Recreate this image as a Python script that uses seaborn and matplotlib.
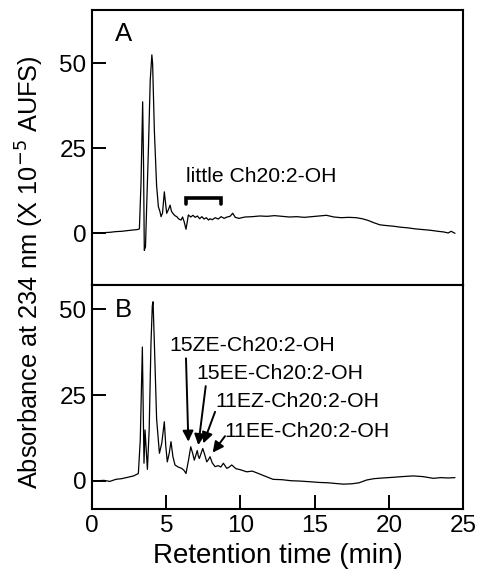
import numpy as np
import pandas as pd
import matplotlib
matplotlib.use("Agg")
import matplotlib.pyplot as plt
import seaborn as sns

# chromatogram A (control)
time_a = [0.0, 0.4, 0.8, 1.2, 1.6, 2.0, 2.4, 2.8, 3.05, 3.19, 3.3, 3.41, 3.47, 3.52,
          3.6, 3.68, 3.8, 3.92, 4.03, 4.08, 4.2, 4.35, 4.47, 4.57, 4.65, 4.75, 4.87,
          4.95, 5.03, 5.15, 5.26, 5.35, 5.44, 5.58, 5.71, 5.85, 6.0, 6.1, 6.2, 6.33,
          6.42, 6.49, 6.65, 6.8, 6.95, 7.1, 7.25, 7.4, 7.55, 7.7, 7.85, 7.95, 8.1,
          8.3, 8.5, 8.7, 8.9, 9.1, 9.3, 9.48, 9.65, 9.9, 10.3, 10.8, 11.3, 11.8,
          12.3, 12.8, 13.3, 13.8, 14.3, 14.8, 15.3, 15.8, 16.3, 16.8, 17.3, 17.8,
          18.2, 18.6, 19.0, 19.4, 19.8, 20.3, 20.8, 21.3, 21.8, 22.3, 22.8, 23.3,
          23.7, 24.0, 24.2, 24.46]
signal_a = [0.0, 0.1, 0.2, 0.3, 0.5, 0.6, 0.8, 1.0, 1.1, 1.3, 15.0, 38.7, 20.0, -5.0,
            -4.0, 7.8, 25.0, 45.0, 52.5, 50.0, 30.0, 14.0, 7.8, 6.5, 4.9, 6.0, 12.2,
            9.0, 5.9, 7.0, 8.3, 6.5, 5.9, 5.2, 4.9, 4.2, 3.9, 4.8, 3.5, 1.2,
            3.5, 5.4, 4.8, 5.3, 4.7, 5.1, 4.3, 4.9, 4.2, 4.6, 3.9, 4.3, 4.0,
            4.6, 4.2, 4.9, 4.4, 4.8, 5.0, 5.9, 4.7, 4.4, 4.8, 4.9, 5.1, 5.0,
            5.2, 5.0, 4.8, 4.9, 4.7, 4.9, 5.1, 5.3, 4.8, 4.6, 4.7, 4.6,
            4.3, 3.8, 3.1, 2.5, 2.3, 2.1, 1.8, 1.6, 1.3, 1.1, 0.9, 0.6,
            0.4, 0.1, 0.6, 0.0]

# chromatogram B (sample)
time_b = [0.0, 0.4, 0.8, 1.2, 1.6, 2.0, 2.4, 2.8, 3.12, 3.25, 3.39, 3.45, 3.5, 3.57,
          3.65, 3.73, 3.85, 3.97, 4.06, 4.11, 4.2, 4.35, 4.54, 4.7, 4.87, 4.97,
          5.07, 5.2, 5.32, 5.45, 5.59, 5.8, 6.04, 6.2, 6.33, 6.5, 6.65, 6.78, 6.89,
          7.0, 7.09, 7.16, 7.23, 7.35, 7.46, 7.6, 7.73, 7.85, 7.95, 8.1, 8.29,
          8.5, 8.68, 8.85, 9.08, 9.25, 9.41, 9.7, 10.0, 10.42, 10.8, 11.1, 11.5,
          12.2, 12.8, 13.4, 14.0, 14.69, 15.3, 15.9, 16.4, 16.93, 17.5, 18.0,
          18.5, 19.0, 19.6, 20.3, 20.9, 21.65, 22.3, 23.0, 23.5, 24.0, 24.46]
signal_b = [0.0, 0.0, 0.1, -0.2, 0.4, 0.6, 1.0, 1.4, 2.1, 12.0, 39.0, 20.0, 5.1, 14.8,
            9.0, 3.3, 15.0, 40.0, 51.0, 52.2, 40.0, 18.0, 8.0, 11.0, 17.2, 10.0,
            5.5, 8.0, 11.4, 7.0, 4.6, 4.0, 3.6, 3.0, 2.1, 6.0, 9.9, 8.0, 6.0,
            7.5, 8.8, 7.2, 6.5, 8.0, 9.4, 7.5, 5.5, 6.2, 7.0, 5.2, 4.1,
            4.4, 4.0, 5.1, 3.6, 4.0, 4.6, 3.5, 3.2, 2.6, 2.8, 2.3, 1.6,
            0.4, 0.3, 0.0, -0.1, -0.3, -0.5, -0.6, -0.8, -1.0, -0.9, -0.6,
            0.2, 0.6, 0.8, 1.0, 1.2, 1.4, 1.2, 0.7, 0.9, 0.8, 0.9]

x_ticks = [0, 5, 10, 15, 20, 25]
y_ticks = [0, 25, 50]

peak_labels = ["15ZE-Ch20:2-OH", "15EE-Ch20:2-OH", "11EZ-Ch20:2-OH", "11EE-Ch20:2-OH"]
peak_tips = [(6.49, 11.4), (7.16, 10.4), (7.5, 10.9), (8.13, 8.2)]
peak_tails = [(6.33, 35.7), (7.66, 27.6), (8.29, 20.1), (8.96, 13.0)]
label_pos = [(5.2, 39.5), (7.0, 31.3), (8.3, 23.0), (8.95, 14.3)]

df_a = pd.DataFrame({"time": time_a, "signal": signal_a})
df_b = pd.DataFrame({"time": time_b, "signal": signal_b})

sns.set_style("ticks")
plt.rcParams['font.family'] = ['Liberation Sans', 'DejaVu Sans']
plt.rcParams['text.color'] = 'black'
plt.rcParams['axes.labelcolor'] = 'black'
plt.rcParams['xtick.color'] = 'black'
plt.rcParams['ytick.color'] = 'black'

fig = plt.figure(figsize=(4.82, 5.79), dpi=100)
ax_a = fig.add_axes([0.191, 0.5078, 0.7696, 0.4749])
ax_b = fig.add_axes([0.191, 0.1209, 0.7696, 0.3869])

for ax, df in [(ax_a, df_a), (ax_b, df_b)]:
    sns.lineplot(data=df, x="time", y="signal", ax=ax, color="black",
                 linewidth=0.9, estimator=None, sort=False)
    ax.set_xlim(0, 25)
    ax.set_xticks(x_ticks)
    ax.set_yticks(y_ticks)
    ax.set_xlabel("")
    ax.set_ylabel("")
    ax.tick_params(direction="in", length=10, width=1.4, labelsize=17.5,
                   color="black", labelcolor="black", pad=4)
    for sp in ax.spines.values():
        sp.set_linewidth(1.5)
        sp.set_color("black")

ax_a.set_ylim(-15.2, 65.7)
ax_b.set_ylim(-8.25, 57.1)
ax_a.tick_params(axis="x", bottom=False, labelbottom=False)

ax_a.text(1.55, 58.6, "A", fontsize=18.5, va="center", ha="left")
ax_b.text(1.55, 49.8, "B", fontsize=18.5, va="center", ha="left")

# bracket for the small region in A
ax_a.plot([6.33, 6.33, 8.67, 8.67], [8.6, 10.3, 10.3, 8.6], color="black",
          linewidth=2.6, solid_joinstyle="miter")
ax_a.text(6.33, 16.6, "little Ch20:2-OH", fontsize=15.2, va="center", ha="left")

for lab, tip, tail, pos in zip(peak_labels, peak_tips, peak_tails, label_pos):
    ax_b.annotate("", xy=tip, xytext=tail,
                  arrowprops=dict(arrowstyle="-|>", color="black", lw=1.4,
                                  mutation_scale=16, shrinkA=0, shrinkB=0))
    ax_b.text(pos[0], pos[1], lab, fontsize=15.3, va="center", ha="left")

ax_b.set_xlabel("Retention time (min)", fontsize=20, labelpad=5)
fig.text(0.062, 0.53, "Absorbance at 234 nm (X 10$^{-5}$ AUFS)", rotation=90,
         fontsize=18.3, va="center", ha="center")

fig.savefig("out.png", dpi=100)
